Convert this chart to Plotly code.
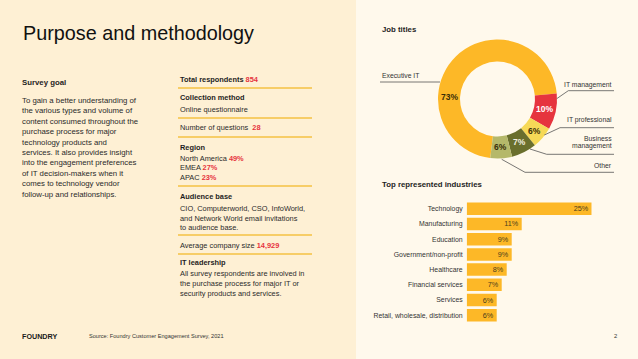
import plotly.graph_objects as go
import math

W, H = 638, 359

# ---------------- data ----------------
job_labels = ["Executive IT", "IT management", "IT professional", "Business management", "Other"]
job_values = [73, 10, 6, 7, 6]
job_colors = ["#FDB827", "#E6343E", "#F6D957", "#6A6F2D", "#B5B86A"]
job_text_colors = ["#3A2E08", "#FFFFFF", "#3A2E08", "#F2F0E0", "#3A2E08"]

industries = ["Technology", "Manufacturing", "Education", "Government/non-profit",
              "Healthcare", "Financial services", "Services", "Retail, wholesale, distribution"]
industry_values = [25, 11, 9, 9, 8, 7, 6, 6]

total_respondents = "854"
num_questions = "28"
region_names = ["North America", "EMEA", "APAC"]
region_values = ["49%", "27%", "23%"]
avg_company_size = "14,929"

# ---------------- helpers ----------------
def px(x):
    return x / W

def py(y):
    return 1 - y / H

FONT = "Liberation Sans, Arial, Helvetica, sans-serif"
DARK = "#1E1E1E"
RED = "#E6343E"
GOLD = "#F5C243"
LEFT_BG = "#FEF0D4"
RIGHT_BG = "#FFF9EC"

fig = go.Figure()

# ---------------- donut ----------------
cx, cy, R = 497.5, 99, 59.5
hole = 0.63
rotation = 187
fig.add_trace(go.Pie(
    labels=job_labels, values=job_values, sort=False, direction="clockwise",
    rotation=rotation, hole=hole, textinfo="none", hoverinfo="label+percent",
    marker=dict(colors=job_colors, line=dict(width=0)),
    domain=dict(x=[px(cx - R), px(cx + R)], y=[py(cy + R), py(cy - R)]),
    showlegend=False,
))

annotations = []
shapes = []

def txt(x, y, text, size=7.5, color=DARK, anchor="left", bold=False, family=FONT):
    if bold:
        text = "<b>" + text + "</b>"
    annotations.append(dict(x=px(x), y=py(y), xref="paper", yref="paper", text=text,
                            showarrow=False, xanchor=anchor, yanchor="middle",
                            font=dict(size=size, color=color, family=family)))

# slice labels computed from cumulative angles
tot = sum(job_values)
cum = 0
rmid = R * (1 + hole) / 2
for i, v in enumerate(job_values):
    a0 = rotation + cum / tot * 360
    a1 = rotation + (cum + v) / tot * 360
    cum += v
    ang = (a0 + a1) / 2
    if i == 0:
        ang = 272  # large slice label sits on the left side
    lx = cx + rmid * math.sin(math.radians(ang))
    ly = cy - rmid * math.cos(math.radians(ang))
    txt(lx, ly, f"{v}%", size=8.5, color=job_text_colors[i], anchor="center", bold=True)

# leader lines
def poly(points):
    path = "M " + " L ".join(f"{px(x)},{py(y)}" for x, y in points)
    shapes.append(dict(type="path", path=path, xref="paper", yref="paper",
                       line=dict(color="#555555", width=0.8)))

poly([(380, 82), (440, 82)])
poly([(556.7, 98.7), (568.3, 90.7), (614, 90.7)])
poly([(544.3, 135), (560, 127.7), (614, 127.7)])
poly([(530, 149), (546.7, 154.3), (614, 154.3)])
poly([(501.7, 159.3), (525, 172.3), (614, 172.3)])

LBL = "#333333"
txt(380, 75.7, job_labels[0], size=6.8, color=LBL)
txt(614, 85.3, job_labels[1], size=6.8, color=LBL, anchor="right")
txt(614, 120, job_labels[2], size=6.8, color=LBL, anchor="right")
txt(614, 138.3, "Business", size=6.8, color=LBL, anchor="right")
txt(614, 146.3, "management", size=6.8, color=LBL, anchor="right")
txt(614, 165.7, job_labels[4], size=6.8, color=LBL, anchor="right")

# ---------------- bars ----------------
fig.add_trace(go.Bar(
    x=industry_values, y=industries, orientation="h",
    marker=dict(color="#FDB827", line=dict(width=0)),
    text=[f"{v}%" for v in industry_values], textposition="inside",
    insidetextanchor="end", textangle=0, constraintext="none",
    insidetextfont=dict(size=7.2, color="#4A3C1C", family=FONT),
    cliponaxis=False, showlegend=False, hoverinfo="x+y",
))

fig.update_layout(
    xaxis=dict(domain=[px(466.7), px(591.7)], range=[0, 25], visible=False, fixedrange=True),
    yaxis=dict(domain=[py(322.9), py(201.1)], autorange="reversed", showgrid=False,
               zeroline=False, showline=False, ticks="", ticklabelstandoff=3,
               tickfont=dict(size=6.9, color=LBL, family=FONT)),
    bargap=0.18,
)

# ---------------- text panels ----------------
shapes.insert(0, dict(type="rect", xref="paper", yref="paper", x0=0, x1=px(356), y0=0, y1=1,
                      fillcolor=LEFT_BG, line=dict(width=0), layer="below"))

txt(21, 33, "Purpose and methodology", size=19.8, color="#111111")

txt(20, 82, "Survey goal", size=7.8, bold=True)
goal_lines = ["To gain a better understanding of", "the various types and volume of",
              "content consumed throughout the", "purchase process for major",
              "technology products and", "services. It also provides insight",
              "into the engagement preferences", "of IT decision-makers when it",
              "comes to technology vendor", "follow-up and relationships."]
for k, line in enumerate(goal_lines):
    txt(20, 100.5 + k * 10.4, line, size=7.8, color="#2A2A2A")

MX = 178
txt(MX, 79, f"<b>Total respondents </b><b style='color:{RED}'>{total_respondents}</b>", size=7.4)
txt(MX, 97.7, "Collection method", size=7.4, bold=True)
txt(MX, 109, "Online questionnaire", size=7.4, color="#2A2A2A")
txt(MX, 128, f"Number of questions  <b style='color:{RED}'>{num_questions}</b>", size=7.4, color="#2A2A2A")
txt(MX, 147, "Region", size=7.4, bold=True)
for k, (n, v) in enumerate(zip(region_names, region_values)):
    txt(MX, 158 + k * 9.6, f"{n} <b style='color:{RED}'>{v}</b>", size=7.4, color="#2A2A2A")
txt(MX, 196, "Audience base", size=7.4, bold=True)
for k, line in enumerate(["CIO, Computerworld, CSO, InfoWorld,",
                          "and Network World email invitations",
                          "to audience base."]):
    txt(MX, 208 + k * 10, line, size=7.4, color="#2A2A2A")
txt(MX, 245, f"Average company size <b style='color:{RED}'>{avg_company_size}</b>", size=7.4, color="#2A2A2A")
txt(MX, 262, "IT leadership", size=7.4, bold=True)
for k, line in enumerate(["All survey respondents are involved in",
                          "the purchase process for major IT or",
                          "security products and services."]):
    txt(MX, 273 + k * 10, line, size=7.4, color="#2A2A2A")

for yy in [88, 118, 137, 186, 235, 254]:
    shapes.append(dict(type="line", xref="paper", yref="paper", x0=px(178), x1=px(312),
                       y0=py(yy), y1=py(yy), line=dict(color=GOLD, width=1.6)))

# right panel titles
txt(380, 29.3, "Job titles", size=7.8, bold=True)
txt(380, 184, "Top represented industries", size=7.8, bold=True)

# footer
txt(20, 336, "FOUNDRY", size=7.2, bold=True, color="#1A1A1A")
txt(87, 336, "Source: Foundry Customer Engagement Survey, 2021", size=5.6, color="#333333")
txt(615, 336, "2", size=5.8, color="#333333", anchor="center")

fig.update_layout(
    width=W, height=H, margin=dict(l=0, r=0, t=0, b=0),
    paper_bgcolor=RIGHT_BG, plot_bgcolor="rgba(0,0,0,0)",
    font=dict(family=FONT, color=DARK),
    annotations=annotations, shapes=shapes,
)

fig.write_html("out.html", config={"displayModeBar": False},
               post_script="document.body.style.margin='0';document.body.style.overflow='hidden';")
